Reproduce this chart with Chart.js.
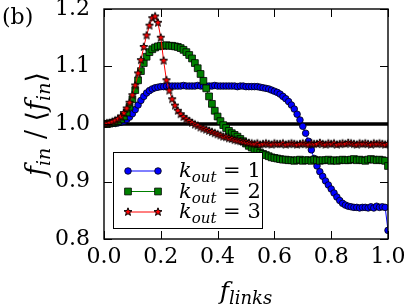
<!DOCTYPE html>
<html>
<head>
<meta charset="utf-8">
<script src="https://cdn.jsdelivr.net/npm/chart.js@4.4.1/dist/chart.umd.min.js"></script>
<style>
    html, body { margin: 0; padding: 0; background: #fff; }
    #wrap { width: 408px; height: 306px; }
</style>
</head>
<body>
<div id="wrap"><canvas id="chart" width="408" height="306"></canvas></div>
<script>
// f_links grid (x values) and f_in/<f_in>
const fLinks = [
    0.00, 0.01, 0.02, 0.03, 0.04, 0.05, 0.06, 0.07, 0.08, 0.09,
    0.10, 0.11, 0.12, 0.13, 0.14, 0.15, 0.16, 0.17, 0.18, 0.19,
    0.20, 0.21, 0.22, 0.23, 0.24, 0.25, 0.26, 0.27, 0.28, 0.29,
    0.30, 0.31, 0.32, 0.33, 0.34, 0.35, 0.36, 0.37, 0.38, 0.39,
    0.40, 0.41, 0.42, 0.43, 0.44, 0.45, 0.46, 0.47, 0.48, 0.49,
    0.50, 0.51, 0.52, 0.53, 0.54, 0.55, 0.56, 0.57, 0.58, 0.59,
    0.60, 0.61, 0.62, 0.63, 0.64, 0.65, 0.66, 0.67, 0.68, 0.69,
    0.70, 0.71, 0.72, 0.73, 0.74, 0.75, 0.76, 0.77, 0.78, 0.79,
    0.80, 0.81, 0.82, 0.83, 0.84, 0.85, 0.86, 0.87, 0.88, 0.89,
    0.90, 0.91, 0.92, 0.93, 0.94, 0.95, 0.96, 0.97, 0.98, 0.99,
    1.00
];

const kOut1 = [
    1.000, 1.000, 1.000, 1.001, 1.001, 1.002, 1.003, 1.005, 1.008, 1.012,
    1.018, 1.025, 1.033, 1.041, 1.048, 1.054, 1.058, 1.061, 1.063, 1.064,
    1.065, 1.065, 1.066, 1.066, 1.066, 1.066, 1.066, 1.066, 1.067, 1.066,
    1.066, 1.066, 1.066, 1.067, 1.066, 1.066, 1.066, 1.066, 1.066, 1.067,
    1.066, 1.066, 1.066, 1.066, 1.066, 1.066, 1.066, 1.065, 1.066, 1.066,
    1.065, 1.065, 1.065, 1.065, 1.065, 1.064, 1.063, 1.062, 1.061, 1.059,
    1.057, 1.055, 1.052, 1.048, 1.044, 1.039, 1.033, 1.026, 1.017, 1.007,
    0.996, 0.984, 0.970, 0.955, 0.940, 0.927, 0.917, 0.909, 0.901, 0.894,
    0.887, 0.880, 0.873, 0.867, 0.862, 0.859, 0.857, 0.856, 0.855, 0.855,
    0.854, 0.855, 0.855, 0.854, 0.856, 0.854, 0.857, 0.855, 0.856, 0.855,
    0.815
];

const kOut2 = [
    1.000, 1.000, 1.001, 1.002, 1.003, 1.005, 1.008, 1.013, 1.020, 1.030,
    1.043, 1.059, 1.076, 1.092, 1.106, 1.117, 1.125, 1.130, 1.133, 1.135,
    1.136, 1.136, 1.137, 1.136, 1.136, 1.135, 1.134, 1.132, 1.129, 1.125,
    1.120, 1.114, 1.106, 1.097, 1.087, 1.075, 1.062, 1.048, 1.035, 1.023,
    1.013, 1.005, 0.998, 0.993, 0.988, 0.984, 0.981, 0.978, 0.974, 0.970,
    0.966, 0.962, 0.959, 0.956, 0.953, 0.950, 0.948, 0.946, 0.944, 0.942,
    0.941, 0.940, 0.939, 0.938, 0.938, 0.937, 0.937, 0.936, 0.937, 0.938,
    0.936, 0.937, 0.937, 0.936, 0.938, 0.937, 0.936, 0.937, 0.937, 0.938,
    0.936, 0.937, 0.936, 0.937, 0.938, 0.937, 0.937, 0.938, 0.939, 0.937,
    0.938, 0.937, 0.936, 0.938, 0.939, 0.938, 0.937, 0.938, 0.937, 0.936,
    0.927
];

const kOut3 = [
    1.000, 1.001, 1.002, 1.004, 1.006, 1.009, 1.013, 1.019, 1.027, 1.037,
    1.050, 1.067, 1.088, 1.111, 1.134, 1.154, 1.171, 1.184, 1.187, 1.176,
    1.150, 1.110, 1.076, 1.058, 1.043, 1.032, 1.023, 1.017, 1.012, 1.008,
    1.005, 1.002, 0.999, 0.997, 0.994, 0.992, 0.990, 0.988, 0.986, 0.984,
    0.982, 0.980, 0.978, 0.977, 0.975, 0.974, 0.972, 0.971, 0.970, 0.969,
    0.968, 0.967, 0.966, 0.965, 0.966, 0.964, 0.965, 0.966, 0.965, 0.964,
    0.966, 0.965, 0.965, 0.966, 0.964, 0.965, 0.966, 0.965, 0.964, 0.965,
    0.966, 0.965, 0.964, 0.966, 0.965, 0.965, 0.967, 0.965, 0.964, 0.966,
    0.965, 0.966, 0.964, 0.965, 0.966, 0.965, 0.967, 0.966, 0.965, 0.964,
    0.966, 0.965, 0.966, 0.965, 0.964, 0.966, 0.965, 0.966, 0.965, 0.964,
    0.965
];

const referenceLevel = 1.0;

const xTicks = [0.0, 0.2, 0.4, 0.6, 0.8, 1.0];
const xTickLabels = ['0.0', '0.2', '0.4', '0.6', '0.8', '1.0'];
const yTicks = [0.8, 0.9, 1.0, 1.1, 1.2];
const yTickLabels = ['0.8', '0.9', '1.0', '1.1', '1.2'];

const legendLabels = ['1', '2', '3'];

const SERIF = '"DejaVu Serif", "DejaVu Sans", serif';

// Filled five-point star like matplotlib's '*' marker
function makeStar(r, fill) {
    const size = Math.ceil(r * 2 + 3);
    const c = document.createElement('canvas');
    c.width = size;
    c.height = size;
    const g = c.getContext('2d');
    g.translate(size / 2, size / 2);
    g.beginPath();
    for (let i = 0; i < 10; i++) {
        const rad = i % 2 === 0 ? r : r * 0.42;
        const a = -Math.PI / 2 + i * Math.PI / 5;
        g.lineTo(rad * Math.cos(a), rad * Math.sin(a));
    }
    g.closePath();
    g.fillStyle = fill;
    g.fill();
    g.lineWidth = 1;
    g.strokeStyle = '#000';
    g.stroke();
    return c;
}

const starMarker = makeStar(4.2, '#ff0000');

const seriesStyles = [
    { line: '#0000ff', fill: '#0000ff', pointStyle: 'circle', radius: 3.3 },
    { line: '#008000', fill: '#008000', pointStyle: 'rect', radius: 4.8 },
    { line: '#ff0000', fill: '#ff0000', pointStyle: starMarker, radius: 4.2 }
];

function toPoints(values) {
    return fLinks.map((x, i) => ({ x, y: values[i] }));
}

// Draw a run of text pieces (for italic math + subscripts)
function drawParts(ctx, parts, x, y, align) {
    const fontOf = p => `${p.italic ? 'italic ' : ''}${p.size}px ${SERIF}`;
    let total = 0;
    parts.forEach(p => {
        ctx.font = fontOf(p);
        total += ctx.measureText(p.t).width;
    });
    let cx = align === 'center' ? x - total / 2 : x;
    parts.forEach(p => {
        ctx.font = fontOf(p);
        ctx.fillText(p.t, cx, y + (p.dy || 0));
        cx += ctx.measureText(p.t).width;
    });
}

const framePlugin = {
    id: 'frameAndText',
    afterDraw(chart) {
        const { ctx, chartArea: a, scales } = chart;
        const xs = scales.x;
        const ys = scales.y;
        ctx.save();
        ctx.strokeStyle = '#000';
        ctx.fillStyle = '#000';

        // inward ticks on all four sides
        ctx.lineWidth = 1;
        ctx.beginPath();
        xTicks.forEach(v => {
            const px = Math.round(xs.getPixelForValue(v)) + 0.5;
            ctx.moveTo(px, a.bottom); ctx.lineTo(px, a.bottom - 8);
            ctx.moveTo(px, a.top); ctx.lineTo(px, a.top + 8);
        });
        yTicks.forEach(v => {
            const py = Math.round(ys.getPixelForValue(v)) + 0.5;
            ctx.moveTo(a.left, py); ctx.lineTo(a.left + 8, py);
            ctx.moveTo(a.right, py); ctx.lineTo(a.right - 8, py);
        });
        ctx.stroke();

        // frame
        ctx.lineWidth = 1.4;
        ctx.strokeRect(a.left, a.top, a.right - a.left, a.bottom - a.top);

        // legend
        const lx = 113.5, ly = 152.5, lw = 149, lh = 76;
        ctx.fillStyle = '#fff';
        ctx.fillRect(lx, ly, lw, lh);
        ctx.lineWidth = 1;
        ctx.strokeStyle = '#000';
        ctx.strokeRect(lx, ly, lw, lh);
        const rowsY = [171, 191.5, 212];
        legendLabels.forEach((lab, i) => {
            const st = seriesStyles[i];
            const y = rowsY[i];
            ctx.strokeStyle = st.line;
            ctx.lineWidth = 1;
            ctx.beginPath();
            ctx.moveTo(128, y); ctx.lineTo(158, y);
            ctx.stroke();
            [128, 158].forEach(px => {
                ctx.fillStyle = st.fill;
                ctx.strokeStyle = '#000';
                ctx.lineWidth = 0.8;
                Chart.helpers.drawPoint(ctx, { pointStyle: st.pointStyle, radius: st.radius, borderWidth: 0.8, rotation: 0 }, px, y);
            });
            ctx.fillStyle = '#000';
            ctx.textBaseline = 'alphabetic';
            drawParts(ctx, [
                { t: 'k', size: 21, italic: true },
                { t: 'out', size: 15, italic: true, dy: 5 },
                { t: ' = ' + lab, size: 21 }
            ], 179, y + 6, 'left');
        });

        // panel label
        ctx.fillStyle = '#000';
        drawParts(ctx, [{ t: '(b)', size: 22 }], 2, 24, 'left');

        // x title
        drawParts(ctx, [
            { t: 'f', size: 25, italic: true },
            { t: 'links', size: 18, italic: true, dy: 5 }
        ], (a.left + a.right) / 2, 299, 'center');

        // y title (rotated)
        ctx.translate(45, (a.top + a.bottom) / 2);
        ctx.rotate(-Math.PI / 2);
        drawParts(ctx, [
            { t: 'f', size: 27, italic: true },
            { t: 'in', size: 19, italic: true, dy: 5 },
            { t: ' / ', size: 27 },
            { t: '\u27e8', size: 27 },
            { t: 'f', size: 27, italic: true },
            { t: 'in', size: 19, italic: true, dy: 5 },
            { t: '\u27e9', size: 27 }
        ], 0, 0, 'center');
        ctx.restore();
    }
};

const tickFont = { family: SERIF, size: 22 };

const chart = new Chart(document.getElementById('chart').getContext('2d'), {
    type: 'line',
    data: {
        datasets: [
            {
                label: 'reference',
                data: [{ x: 0, y: referenceLevel }, { x: 1, y: referenceLevel }],
                borderColor: '#000',
                borderWidth: 3.6,
                pointRadius: 0,
                order: 4
            },
            ...[kOut1, kOut2, kOut3].map((vals, i) => ({
                label: 'k_out = ' + legendLabels[i],
                data: toPoints(vals),
                borderColor: seriesStyles[i].line,
                borderWidth: 1,
                pointStyle: seriesStyles[i].pointStyle,
                pointRadius: seriesStyles[i].radius,
                pointBackgroundColor: seriesStyles[i].fill,
                pointBorderColor: '#000',
                pointBorderWidth: 0.8,
                order: 3 - i
            }))
        ]
    },
    options: {
        responsive: false,
        animation: false,
        events: [],
        layout: { padding: { left: 0, right: 20, top: 9, bottom: 0 } },
        plugins: {
            legend: { display: false },
            tooltip: { enabled: false }
        },
        scales: {
            x: {
                type: 'linear',
                min: 0,
                max: 1,
                afterBuildTicks: s => { s.ticks = xTicks.map(v => ({ value: v })); },
                afterFit: s => { s.height = 67; s.paddingLeft = 0; s.paddingRight = 0; },
                ticks: {
                    callback: (v, i) => xTickLabels[i],
                    font: tickFont,
                    color: '#000',
                    padding: 5,
                    maxRotation: 0,
                    autoSkip: false
                },
                grid: { display: false, drawTicks: false },
                border: { display: false }
            },
            y: {
                type: 'linear',
                min: 0.8,
                max: 1.2,
                afterBuildTicks: s => { s.ticks = yTicks.map(v => ({ value: v })); },
                afterFit: s => { s.width = 104; s.paddingTop = 0; s.paddingBottom = 0; },
                ticks: {
                    callback: (v, i) => yTickLabels[i],
                    font: tickFont,
                    color: '#000',
                    padding: 14,
                    autoSkip: false
                },
                grid: { display: false, drawTicks: false },
                border: { display: false }
            }
        }
    },
    plugins: [framePlugin]
});
</script>
</body>
</html>
